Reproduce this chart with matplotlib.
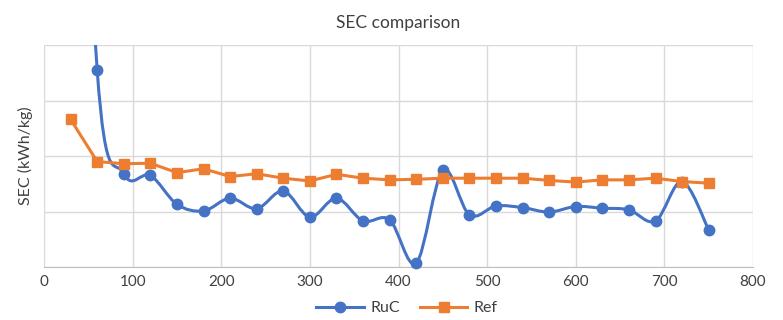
import numpy as np
from matplotlib import pyplot as plt
from matplotlib.path import Path
from matplotlib.patches import PathPatch
from matplotlib.lines import Line2D

plt.rcParams['font.family'] = ['Lato', 'DejaVu Sans']

x_values = [30, 60, 90, 120, 150, 180, 210, 240, 270, 300, 330, 360, 390, 420, 450,
            480, 510, 540, 570, 600, 630, 660, 690, 720, 750]
ruc = [15.0, 3.55, 1.68, 1.65, 1.13, 1.01, 1.24, 1.05, 1.37, 0.90, 1.24, 0.83, 0.85, 0.07, 1.74,
       0.94, 1.10, 1.07, 0.99, 1.09, 1.06, 1.03, 0.83, 1.54, 0.67]
ref = [2.66, 1.90, 1.86, 1.87, 1.70, 1.77, 1.63, 1.68, 1.60, 1.55, 1.67, 1.60, 1.57, 1.58, 1.60,
       1.60, 1.60, 1.60, 1.56, 1.53, 1.57, 1.57, 1.60, 1.54, 1.51]

blue = '#4472C4'
orange = '#ED7D31'


def smooth_path(xs, ys):
    # Excel-like smoothed line: cubic bezier with catmull-rom tangents
    pts = np.column_stack([xs, ys]).astype(float)
    n = len(pts)
    verts = [pts[0]]
    codes = [Path.MOVETO]
    for i in range(n - 1):
        p_prev = pts[max(i - 1, 0)]
        p_next2 = pts[min(i + 2, n - 1)]
        c1 = pts[i] + (pts[i + 1] - p_prev) / 6
        c2 = pts[i + 1] - (p_next2 - pts[i]) / 6
        verts += [c1, c2, pts[i + 1]]
        codes += [Path.CURVE4] * 3
    return Path(verts, codes)


fig = plt.figure(figsize=(7.83, 3.2), dpi=100)
ax = fig.add_axes([44 / 783, 1 - 267 / 320, 709 / 783, 222 / 320])

ax.add_patch(PathPatch(smooth_path(x_values, ruc), facecolor='none', edgecolor=blue, lw=2.2, zorder=3))

xs = np.array(x_values)
ys = np.array(ruc)
vis = ys <= 4
ax.plot(xs[vis], ys[vis], linestyle='none', marker='o', markersize=7.5, color=blue, zorder=4, clip_on=False)
ax.plot(x_values, ref, color=orange, lw=2.2, marker='s', markersize=7, zorder=5, clip_on=False)

ax.set_xlim(0, 800)
ax.set_ylim(0, 4)
ax.set_xticks(range(0, 801, 100))
ax.set_yticks([0, 1, 2, 3, 4])
ax.set_yticklabels([])
ax.grid(True, color='#d9d9d9', lw=1)
ax.set_axisbelow(True)
for side in ['top', 'right', 'left']:
    ax.spines[side].set_visible(False)
ax.spines['bottom'].set_color('#bfbfbf')
ax.tick_params(length=0, labelsize=11, colors='#404040', pad=6)
ax.tick_params(axis='y', pad=0)

ax.set_title('SEC comparison', fontsize=12.5, color='#404040', pad=12)
ax.set_ylabel('SEC (kWh/kg)', fontsize=11.5, color='#404040', labelpad=8)

handles = [Line2D([], [], color=blue, lw=2.2, marker='o', markersize=7.5),
           Line2D([], [], color=orange, lw=2.2, marker='s', markersize=7)]
fig.legend(handles, ['RuC', 'Ref'], loc='center', bbox_to_anchor=(0.52, 0.037), ncol=2,
           frameon=False, fontsize=11.5, handlelength=3.0, columnspacing=1.2, handletextpad=0.4,
           labelcolor='#404040')

fig.savefig('out.png', dpi=100)
